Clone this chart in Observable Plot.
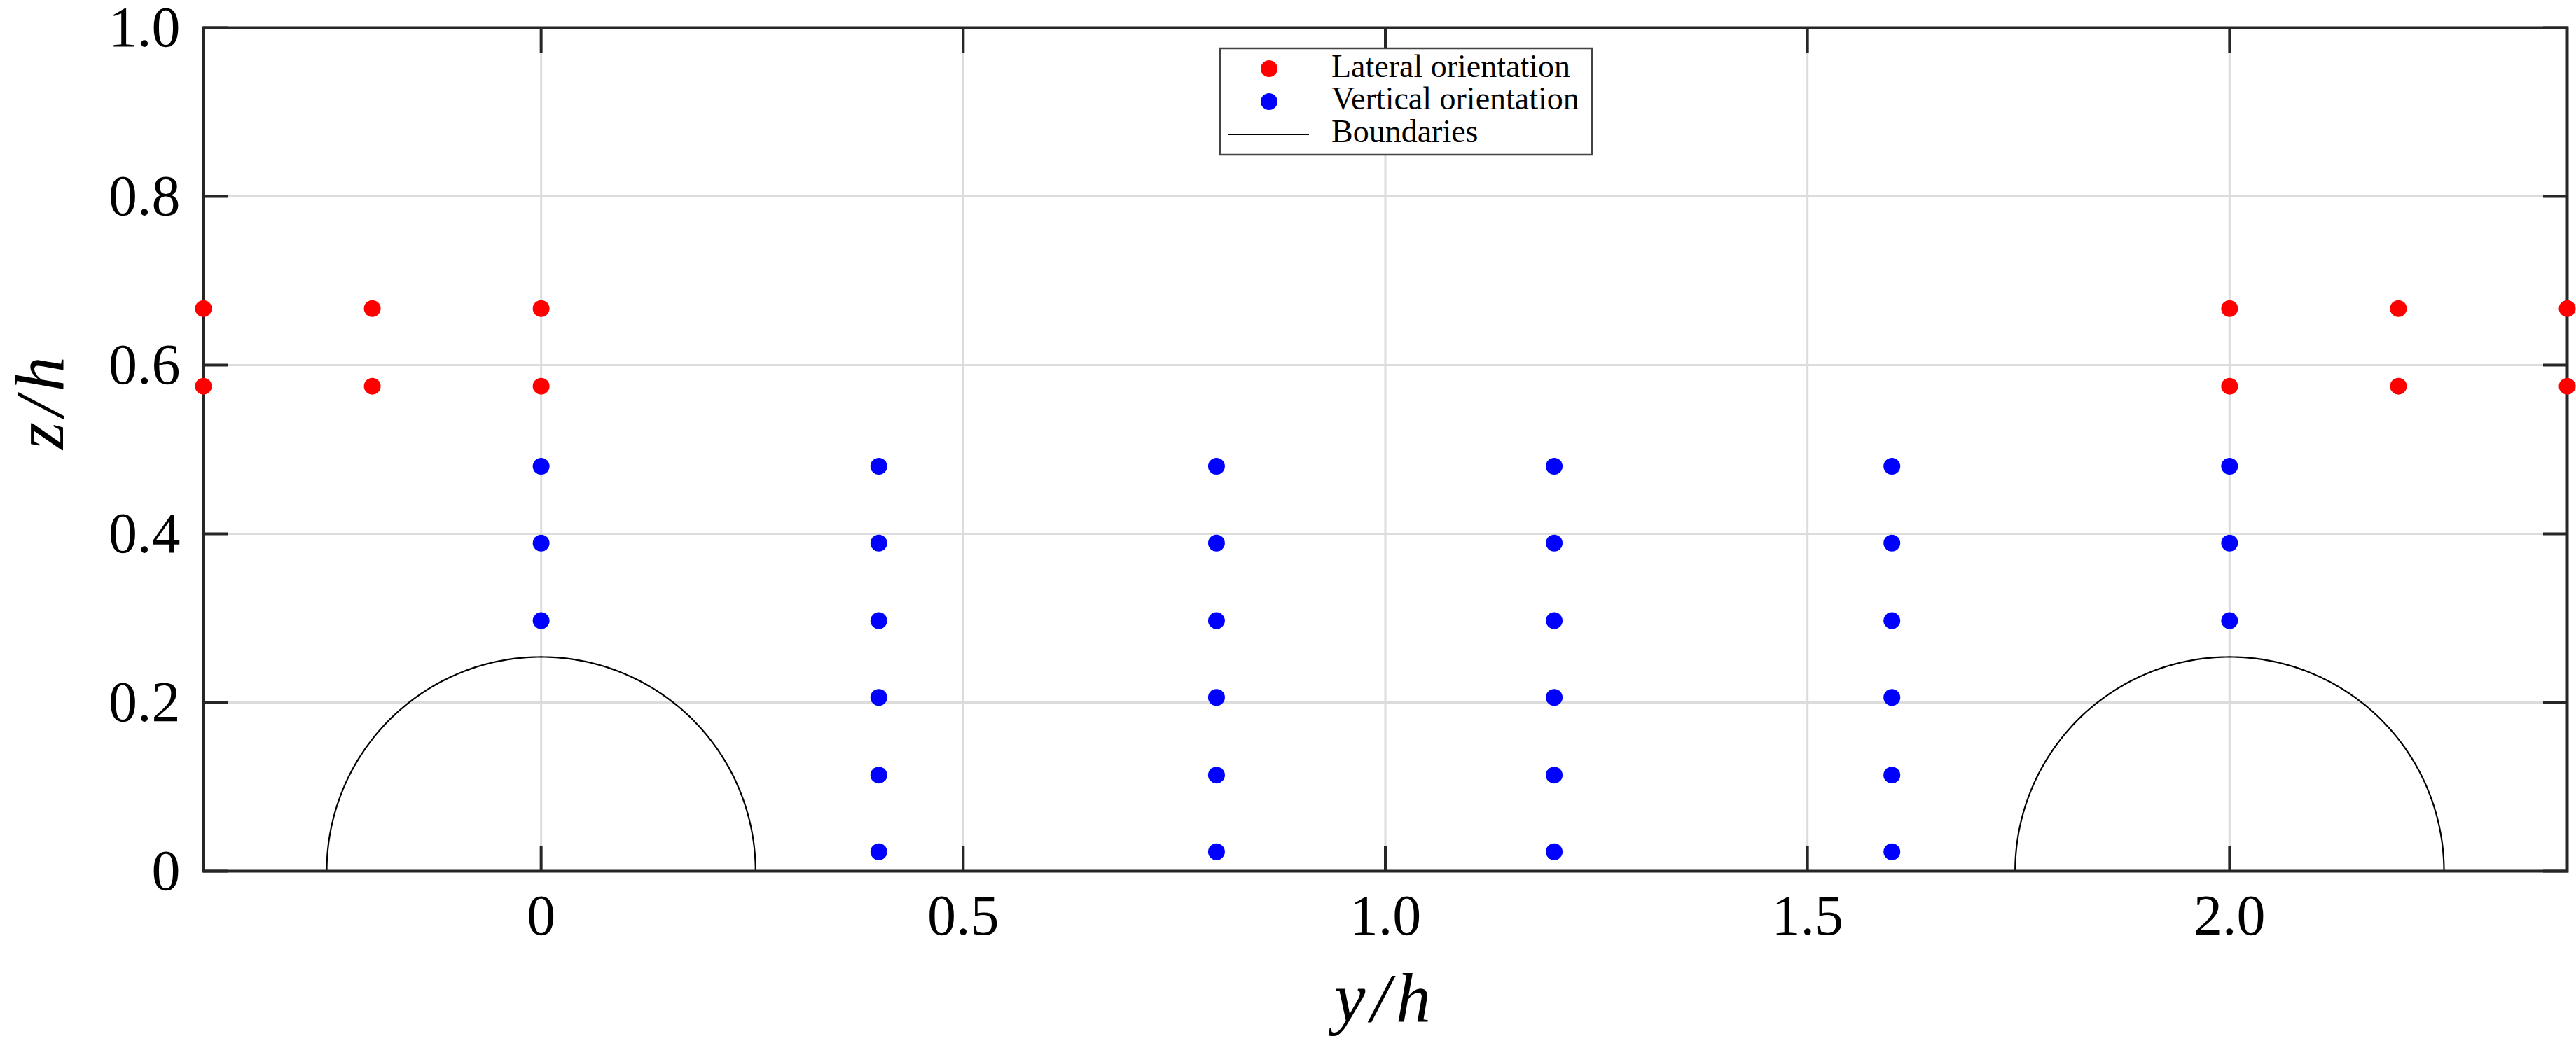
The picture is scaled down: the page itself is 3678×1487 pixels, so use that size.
<!DOCTYPE html>
<html>
<head>
<meta charset="utf-8">
<script src="https://cdn.jsdelivr.net/npm/d3@7"></script>
<script src="https://cdn.jsdelivr.net/npm/@observablehq/plot@0.6"></script>
<style>
  html, body { margin: 0; padding: 0; background: #ffffff; }
  #chart svg { display: block; overflow: visible; }
</style>
</head>
<body>
<div id="chart"></div>
<script>
// ---- Data ----
// Lateral orientation points (red)
const lateralYh = [-0.4, -0.4, -0.2, -0.2, 0, 0, 2.0, 2.0, 2.2, 2.2, 2.4, 2.4];
const lateralZh = [0.667, 0.575, 0.667, 0.575, 0.667, 0.575, 0.667, 0.575, 0.667, 0.575, 0.667, 0.575];

// Vertical orientation points (blue)
const verticalYh = [
  0, 0, 0,
  0.4, 0.4, 0.4, 0.4, 0.4, 0.4,
  0.8, 0.8, 0.8, 0.8, 0.8, 0.8,
  1.2, 1.2, 1.2, 1.2, 1.2, 1.2,
  1.6, 1.6, 1.6, 1.6, 1.6, 1.6,
  2.0, 2.0, 2.0
];
const verticalZh = [
  0.297, 0.389, 0.480,
  0.023, 0.114, 0.206, 0.297, 0.389, 0.480,
  0.023, 0.114, 0.206, 0.297, 0.389, 0.480,
  0.023, 0.114, 0.206, 0.297, 0.389, 0.480,
  0.023, 0.114, 0.206, 0.297, 0.389, 0.480,
  0.297, 0.389, 0.480
];

// Boundaries (semicircles)
const boundaryCenters = [0, 2.0];
const boundaryRadius = 0.254;

// Ticks
const xTicks = [0, 0.5, 1.0, 1.5, 2.0];
const yTicks = [0, 0.2, 0.4, 0.6, 0.8, 1.0];
const yGrid = [0.2, 0.4, 0.6, 0.8];

const legendLabels = ["Lateral orientation", "Vertical orientation", "Boundaries"];
const xLabel = "y/h";
const yLabel = "z/h";

// ---- Build tables ----
const lateral = lateralYh.map((y, i) => ({y, z: lateralZh[i]}));
const vertical = verticalYh.map((y, i) => ({y, z: verticalZh[i]}));
const arcs = [];
boundaryCenters.forEach((c, k) => {
  d3.range(0, 181).forEach(a => {
    const t = a * Math.PI / 180;
    arcs.push({id: k, y: c + boundaryRadius * Math.cos(t), z: boundaryRadius * Math.sin(t)});
  });
});

const fmt = d => d === 0 ? "0" : d.toFixed(1);
const FONT = "'Liberation Serif', 'Times New Roman', serif";
const tickColor = "#262626";

const svg = Plot.plot({
  width: 3678,
  height: 1487,
  marginLeft: 290,
  marginRight: 13,
  marginTop: 39,
  marginBottom: 243,
  style: {fontFamily: FONT, background: "#ffffff", color: "#000", overflow: "visible"},
  x: {domain: [-0.4, 2.4], label: null},
  y: {domain: [0, 1], label: null},
  marks: [
    Plot.gridX(xTicks, {stroke: "#dcdcdc", strokeOpacity: 1, strokeWidth: 3}),
    Plot.gridY(yGrid, {stroke: "#dcdcdc", strokeOpacity: 1, strokeWidth: 3}),
    Plot.line(arcs, {x: "y", y: "z", z: "id", stroke: "#000", strokeWidth: 2.2}),
    // inward ticks on all four sides
    Plot.axisX(xTicks, {anchor: "bottom", tickSize: -35, text: null, stroke: tickColor, strokeWidth: 4}),
    Plot.axisX(xTicks, {anchor: "top", tickSize: -35, text: null, stroke: tickColor, strokeWidth: 4}),
    Plot.axisY(yTicks, {anchor: "left", tickSize: -35, text: null, stroke: tickColor, strokeWidth: 4}),
    Plot.axisY(yTicks, {anchor: "right", tickSize: -35, text: null, stroke: tickColor, strokeWidth: 4}),
    // tick labels
    Plot.axisX(xTicks, {anchor: "bottom", tickSize: 0, tickPadding: 32, tickFormat: fmt, fontSize: 82, fill: "#000", label: null}),
    Plot.axisY(yTicks, {anchor: "left", tickSize: 0, tickPadding: 33, tickFormat: fmt, fontSize: 82, fill: "#000", label: null}),
    Plot.frame({stroke: tickColor, strokeWidth: 4}),
    // axis titles
    Plot.text([xLabel], {text: d => d, frameAnchor: "bottom", dy: 214, lineAnchor: "bottom", fontSize: 100, fontStyle: "italic", fill: "#000"}),
    Plot.text([yLabel], {text: d => d, frameAnchor: "left", dx: -201, rotate: -90, lineAnchor: "bottom", fontSize: 100, fontStyle: "italic", fill: "#000"}),
    // points
    Plot.dot(vertical, {x: "y", y: "z", r: 12, fill: "#0000ff"}),
    Plot.dot(lateral, {x: "y", y: "z", r: 12, fill: "#ff0000"})
  ]
});

// slightly looser spacing in the axis titles, as in the reference
d3.select(svg).selectAll("text").each(function () {
  if (this.textContent === xLabel || this.textContent === yLabel) {
    this.setAttribute("letter-spacing", "8");
  }
});

// ---- Legend (inside the plot, top centre) ----
const lg = d3.select(svg).append("g").attr("class", "legend")
  .style("font-family", FONT).attr("text-anchor", "start");
lg.append("rect").attr("x", 1742).attr("y", 69).attr("width", 531).attr("height", 152)
  .attr("fill", "#fff").attr("stroke", "#444").attr("stroke-width", 2.5);
lg.append("circle").attr("cx", 1812).attr("cy", 98).attr("r", 12).attr("fill", "#ff0000");
lg.append("circle").attr("cx", 1812).attr("cy", 145).attr("r", 12).attr("fill", "#0000ff");
lg.append("line").attr("x1", 1754).attr("x2", 1869).attr("y1", 192).attr("y2", 192)
  .attr("stroke", "#000").attr("stroke-width", 2.2);
const baselines = [110, 156, 203];
legendLabels.forEach((t, i) => {
  lg.append("text").attr("x", 1901).attr("y", baselines[i]).attr("font-size", 46)
    .attr("text-anchor", "start").attr("fill", "#000").text(t);
});

document.getElementById("chart").appendChild(svg);
</script>
</body>
</html>
